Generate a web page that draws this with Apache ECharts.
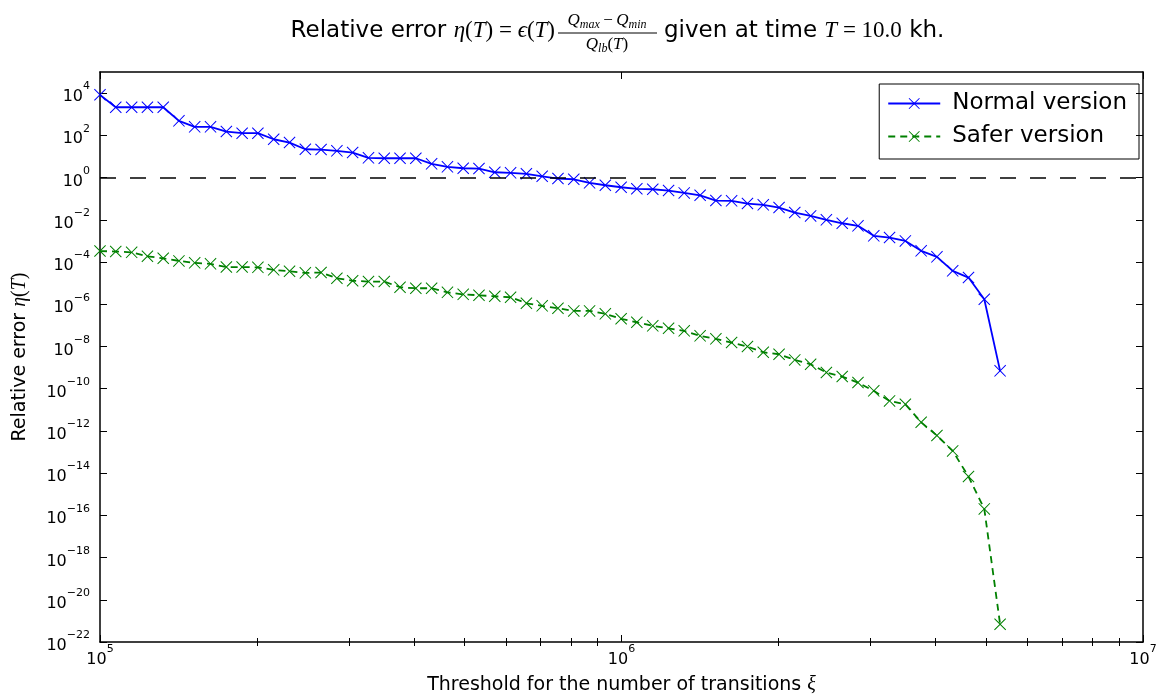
<!DOCTYPE html>
<html>
<head>
<meta charset="utf-8">
<script src="https://cdn.jsdelivr.net/npm/echarts@6/dist/echarts.min.js"></script>
<style>
html,body{margin:0;padding:0;background:#fff;}
#chart{width:1170px;height:698px;}
</style>
</head>
<body>
<div id="chart"></div>
<script>
// Threshold for the number of transitions (x values)
const thresholds = [
  1.000e5, 1.072e5, 1.150e5, 1.233e5, 1.322e5, 1.417e5, 1.519e5, 1.629e5, 1.747e5, 1.873e5,
  2.008e5, 2.153e5, 2.309e5, 2.476e5, 2.654e5, 2.846e5, 3.051e5, 3.272e5, 3.508e5, 3.761e5,
  4.033e5, 4.324e5, 4.637e5, 4.971e5, 5.330e5, 5.715e5, 6.128e5, 6.571e5, 7.045e5, 7.554e5,
  8.100e5, 8.685e5, 9.311e5, 9.983e5, 1.070e6, 1.148e6, 1.231e6, 1.319e6, 1.415e6, 1.517e6,
  1.626e6, 1.744e6, 1.870e6, 2.005e6, 2.149e6, 2.305e6, 2.471e6, 2.650e6, 2.841e6, 3.046e6,
  3.266e6, 3.502e6, 3.755e6, 4.026e6, 4.316e6, 4.628e6, 4.962e6, 5.321e6
];
// Relative error, normal version
const normalErr = [
  8.28e3, 2.14e3, 2.14e3, 2.14e3, 2.14e3, 4.85e2, 2.52e2, 2.52e2, 1.51e2, 1.26e2,
  1.26e2, 65.2, 45.5, 21.9, 21.2, 18.4, 15.3, 8.57, 8.20, 8.20,
  8.20, 4.46, 3.21, 2.76, 2.67, 1.78, 1.67, 1.50, 1.15, 0.897,
  0.830, 0.561, 0.432, 0.348, 0.292, 0.279, 0.242, 0.188, 0.144, 0.0813,
  0.0787, 0.0586, 0.0509, 0.0379, 0.0220, 0.0153, 0.00991, 0.00684, 0.00515, 0.00173,
  0.00144, 0.00100, 3.37e-4, 1.75e-4, 3.80e-5, 1.83e-5, 1.72e-6, 6.97e-10
];
// Relative error, safer version
const saferErr = [
  3.30e-4, 3.13e-4, 2.86e-4, 1.87e-4, 1.49e-4, 1.13e-4, 9.10e-5, 8.17e-5, 5.75e-5, 5.75e-5,
  5.57e-5, 4.25e-5, 3.64e-5, 3.06e-5, 3.16e-5, 1.70e-5, 1.29e-5, 1.18e-5, 1.18e-5, 6.35e-6,
  5.70e-6, 5.70e-6, 3.65e-6, 2.93e-6, 2.65e-6, 2.38e-6, 2.14e-6, 1.11e-6, 8.36e-7, 6.44e-7,
  4.84e-7, 4.84e-7, 3.49e-7, 2.03e-7, 1.40e-7, 9.44e-8, 7.26e-8, 5.47e-8, 3.17e-8, 2.29e-8,
  1.53e-8, 9.86e-9, 5.30e-9, 4.27e-9, 2.31e-9, 1.43e-9, 5.79e-10, 3.74e-10, 1.95e-10, 7.87e-11,
  2.64e-11, 1.82e-11, 2.56e-12, 6.00e-13, 1.13e-13, 6.85e-15, 2.02e-16, 6.92e-22
];
const seriesNames = ['Normal version', 'Safer version'];
const referenceLevel = 1;
// Tick values
const majorXTicks = [1e5, 1e6, 1e7];
const minorXTicks = [2e5,3e5,4e5,5e5,6e5,7e5,8e5,9e5,2e6,3e6,4e6,5e6,6e6,7e6,8e6,9e6];
const majorYTicks = [1e-22,1e-20,1e-18,1e-16,1e-14,1e-12,1e-10,1e-8,1e-6,1e-4,1e-2,1e0,1e2,1e4];

const xSym = 'path://M0,0.6L0.6,0L5,4.4L9.4,0L10,0.6L5.6,5L10,9.4L9.4,10L5,5.6L0.6,10L0,9.4L4.4,5Z';
const SANS = 'DejaVu Sans';
const SERIF = 'Liberation Serif';

function powLabel(v) {
  const e = Math.round(Math.log10(v));
  const s = e < 0 ? '\u2212' + (-e) : '' + e;
  return '{b|10}{s|' + s + '}';
}
const labelRich = {
  b: {fontSize: 16, fontFamily: SANS, color: '#000', verticalAlign: 'bottom', lineHeight: 18},
  s: {fontSize: 11, fontFamily: SANS, color: '#000', verticalAlign: 'top', lineHeight: 24}
};

const chart = echarts.init(document.getElementById('chart'));
const axisLineStyle = {show: true, onZero: false, lineStyle: {color: '#000', width: 1.5}};
function tick(len, vals) {
  return {show: true, inside: true, length: len, lineStyle: {color: '#000', width: 1}, customValues: vals};
}
const mathRich = (sz, subSz) => ({
  a: {fontSize: 23, fontFamily: SANS, fill: '#000'},
  m: {fontSize: sz, fontFamily: SERIF, fontStyle: 'italic', fill: '#000'},
  u: {fontSize: sz, fontFamily: SERIF, fill: '#000'},
  s: {fontSize: subSz, fontFamily: SERIF, fontStyle: 'italic', fill: '#000', padding: [7, 0, 0, 0]}
});

const option = {
  animation: false,
  backgroundColor: '#fff',
  grid: {left: 100, right: 27, top: 72, bottom: 56, containLabel: false, outerBoundsMode: 'none'},
  legend: {
    right: 31, top: 84, orient: 'vertical',
    borderColor: '#000', borderWidth: 1, borderRadius: 0,
    padding: [8, 12, 11, 8], itemGap: 10,
    itemWidth: 52, itemHeight: 14,
    textStyle: {fontSize: 23, fontFamily: SANS, color: '#000', padding: [0, 0, 0, 7]},
    data: seriesNames
  },
  graphic: [
    {type: 'text', x: 555, y: 31, style: {
      text: '{a|Relative error }{m|\u03B7}{u|(}{m|T}{u|) = }{m|\u03F5}{u|(}{m|T}{u|)}',
      align: 'right', verticalAlign: 'middle', rich: mathRich(23, 15)}},
    {type: 'text', x: 607, y: 21, style: {
      text: '{m|Q}{s|max}{u|\u2009\u2212\u2009}{m|Q}{s|min}', align: 'center', verticalAlign: 'middle',
      rich: mathRich(17, 12)}},
    {type: 'line', shape: {x1: 558, y1: 33, x2: 657, y2: 33}, style: {stroke: '#000', lineWidth: 1}},
    {type: 'text', x: 607, y: 45, style: {
      text: '{m|Q}{s|lb}{u|(}{m|T}{u|)}', align: 'center', verticalAlign: 'middle',
      rich: mathRich(17, 12)}},
    {type: 'text', x: 664, y: 31, style: {
      text: '{a|given at time }{m|T}{u| = 10.0}{a| kh.}',
      align: 'left', verticalAlign: 'middle', rich: mathRich(23, 15)}}
  ],
  xAxis: [
    {type: 'log', logBase: 10, min: 1e5, max: 1e7, position: 'bottom',
     axisLine: axisLineStyle, axisTick: tick(7, majorXTicks), splitLine: {show: false},
     axisLabel: {show: true, margin: 2, formatter: powLabel, rich: labelRich, customValues: majorXTicks},
     name: '{n|Threshold for the number of transitions }{m|\u03BE}', nameLocation: 'middle', nameGap: 33,
     nameTextStyle: {rich: {
       n: {fontSize: 19, fontFamily: SANS, color: '#000'},
       m: {fontSize: 20, fontFamily: SERIF, fontStyle: 'italic', color: '#000'}}}},
    {type: 'log', logBase: 10, min: 1e5, max: 1e7, position: 'top',
     axisLine: axisLineStyle, axisTick: tick(7, majorXTicks), splitLine: {show: false}, axisLabel: {show: false}},
    {type: 'log', logBase: 10, min: 1e5, max: 1e7, position: 'bottom',
     axisLine: {show: false}, axisTick: tick(4, minorXTicks), splitLine: {show: false}, axisLabel: {show: false}},
    {type: 'log', logBase: 10, min: 1e5, max: 1e7, position: 'top',
     axisLine: {show: false}, axisTick: tick(4, minorXTicks), splitLine: {show: false}, axisLabel: {show: false}}
  ],
  yAxis: [
    {type: 'log', logBase: 10, min: 1e-22, max: 1e5, position: 'left',
     axisLine: axisLineStyle, axisTick: tick(7, majorYTicks), splitLine: {show: false},
     axisLabel: {show: true, margin: 10, formatter: powLabel, rich: labelRich, customValues: majorYTicks},
     name: '{n|Relative error }{m|\u03B7}{u|(}{m|T}{u|)}', nameLocation: 'middle', nameGap: 70, nameRotate: 90,
     nameTextStyle: {rich: {
       n: {fontSize: 19, fontFamily: SANS, color: '#000'},
       m: {fontSize: 20, fontFamily: SERIF, fontStyle: 'italic', color: '#000'},
       u: {fontSize: 20, fontFamily: SERIF, color: '#000'}}}},
    {type: 'log', logBase: 10, min: 1e-22, max: 1e5, position: 'right',
     axisLine: axisLineStyle, axisTick: tick(7, majorYTicks), splitLine: {show: false}, axisLabel: {show: false}}
  ],
  series: [
    {name: seriesNames[0], type: 'line', xAxisIndex: 0, yAxisIndex: 0,
     data: thresholds.map((x, i) => [x, normalErr[i]]),
     symbol: xSym, symbolSize: 12, showAllSymbol: true,
     lineStyle: {color: '#0000ff', width: 1.8}, itemStyle: {color: '#0000ff'},
     markLine: {silent: true, symbol: ['none', 'none'], label: {show: false},
       lineStyle: {color: '#000', type: [16, 14], width: 1.5},
       data: [{yAxis: referenceLevel}]}},
    {name: seriesNames[1], type: 'line', xAxisIndex: 0, yAxisIndex: 0,
     data: thresholds.map((x, i) => [x, saferErr[i]]),
     symbol: xSym, symbolSize: 12, showAllSymbol: true,
     lineStyle: {color: '#008000', width: 1.8, type: [7, 5]}, itemStyle: {color: '#008000'}}
  ]
};
chart.setOption(option);
</script>
</body>
</html>
